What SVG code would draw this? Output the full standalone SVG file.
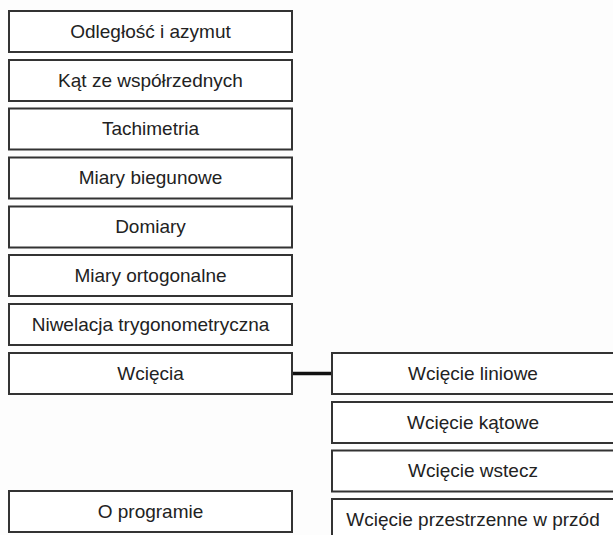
<svg xmlns="http://www.w3.org/2000/svg" width="613" height="535" viewBox="0 0 613 535">
<style>
.box{fill:#ffffff;stroke:#333333;stroke-width:2}
.lbl{font-family:"Liberation Sans",Arial,sans-serif;font-size:19px;fill:#222222;text-anchor:middle}
.conn{stroke:#111111;stroke-width:3.5;fill:none}
</style>
<rect x="0" y="0" width="613" height="535" fill="#fdfdfd"/>
<g id="connectors">
<line class="conn" x1="292" y1="373.5" x2="332" y2="373.5"/>
</g>
<g id="n1"><rect class="box" x="9" y="11" width="283" height="41"/><text class="lbl" x="150.5" y="37.5">Odległość i azymut</text></g>
<g id="n2"><rect class="box" x="9" y="60" width="283" height="41"/><text class="lbl" x="150.5" y="86.5">Kąt ze współrzednych</text></g>
<g id="n3"><rect class="box" x="9" y="108.5" width="283" height="41"/><text class="lbl" x="150.5" y="135">Tachimetria</text></g>
<g id="n4"><rect class="box" x="9" y="157.5" width="283" height="41"/><text class="lbl" x="150.5" y="184">Miary biegunowe</text></g>
<g id="n5"><rect class="box" x="9" y="206.5" width="283" height="41"/><text class="lbl" x="150.5" y="233">Domiary</text></g>
<g id="n6"><rect class="box" x="9" y="255" width="283" height="41"/><text class="lbl" x="150.5" y="281.5">Miary ortogonalne</text></g>
<g id="n7"><rect class="box" x="9" y="304" width="283" height="41"/><text class="lbl" x="150.5" y="330.5">Niwelacja trygonometryczna</text></g>
<g id="n8"><rect class="box" x="9" y="353" width="283" height="41"/><text class="lbl" x="150.5" y="379.5">Wcięcia</text></g>
<g id="n9"><rect class="box" x="9" y="491" width="283" height="41"/><text class="lbl" x="150.5" y="517.5">O programie</text></g>
<g id="r1"><rect class="box" x="332" y="353" width="283" height="41"/><text class="lbl" x="473" y="379.5">Wcięcie liniowe</text></g>
<g id="r2"><rect class="box" x="332" y="402" width="283" height="41"/><text class="lbl" x="473" y="428.5">Wcięcie kątowe</text></g>
<g id="r3"><rect class="box" x="332" y="450.5" width="283" height="41"/><text class="lbl" x="473" y="477">Wcięcie wstecz</text></g>
<g id="r4"><rect class="box" x="332" y="499" width="283" height="41"/><text class="lbl" x="473" y="525.5">Wcięcie przestrzenne w przód</text></g>
</svg>
